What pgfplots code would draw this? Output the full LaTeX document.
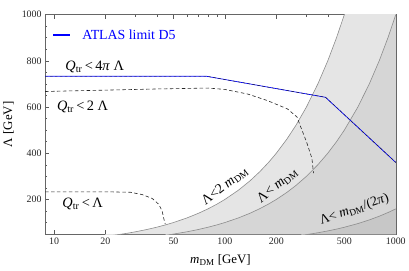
\documentclass[border=0pt]{standalone}
\usepackage{fontspec}
\setmainfont{Liberation Serif}
\usepackage{pgfplots}
\pgfplotsset{compat=1.18}
\begin{document}
\begin{tikzpicture}
\begin{axis}[
  scale only axis,
  width=354pt, height=221.6pt,
  xmode=log,
  xmin=8.87, xmax=1000,
  ymin=50, ymax=1000,
  xtick={10,20,50,100,200,500,1000},
  xticklabels={10,20,50,100,200,500,1000},
  minor xtick={30,40,60,70,80,90,300,400,600,700,800,900},
  ytick={200,400,600,800,1000},
  yticklabels={200,400,600,800,1000},
  minor ytick={100,150,250,300,350,450,500,550,650,700,750,850,900,950},
  tick align=inside,
  major tick length=4pt,
  minor tick length=2.2pt,
  tick style={black!65, line width=0.4pt},
  axis line style={black!60, line width=0.5pt},
  /pgf/number format/assume math mode=true,
  /pgf/number format/1000 sep={},
  tick label style={font=\fontsize{10}{10}\selectfont, text=black!85},
  xlabel={\textit{m}\textsubscript{DM} [GeV]},
  ylabel={Λ [GeV]},
  label style={font=\fontsize{13}{13}\selectfont},
  xlabel style={at={(axis description cs:0.5,-0.117)}, anchor=center},
  ylabel style={at={(axis description cs:-0.104,0.5)}, anchor=center},
  legend style={at={(axis description cs:0.012,0.905)}, anchor=west, draw=none, fill=none,
     font=\fontsize{14}{14}\selectfont, text=blue,
     /tikz/every odd column/.append style={column sep=9pt}},
  legend cell align=left,
  clip=true,
]
% shaded regions
\addplot[draw=none, fill=black!10, forget plot] coordinates {
 (20,40)(25,50)(27,54)(30,60)(35,70)(40,80)(45,90)(50,100)(60,120)(70,140)(80,160)(90,180)(100,200)(120,240)(140,280)(160,320)(180,360)(200,400)(230,460)(260,520)(300,600)(350,700)(400,800)(450,900)(500,1000)(600,1200)(1000,2000)
} \closedcycle;
\addplot[draw=none, fill=black!16, forget plot] coordinates {
 (45,45)(50,50)(60,60)(70,70)(80,80)(90,90)(100,100)(120,120)(140,140)(160,160)(180,180)(200,200)(230,230)(260,260)(300,300)(350,350)(400,400)(450,450)(500,500)(600,600)(700,700)(800,800)(900,900)(1000,1000)
} \closedcycle;
\addplot[draw=none, fill=black!22, forget plot] coordinates {
 (280,44.6)(300,47.7)(350,55.7)(400,63.7)(450,71.6)(500,79.6)(600,95.5)(700,111.4)(800,127.3)(900,143.2)(1000,159.2)
} \closedcycle;
% boundary curves
\addplot[black!45, line width=0.6pt, forget plot] coordinates {
 (20,40)(25,50)(27,54)(30,60)(35,70)(40,80)(45,90)(50,100)(60,120)(70,140)(80,160)(90,180)(100,200)(120,240)(140,280)(160,320)(180,360)(200,400)(230,460)(260,520)(300,600)(350,700)(400,800)(450,900)(500,1000)(600,1200)
};
\addplot[black!45, line width=0.6pt, forget plot] coordinates {
 (45,45)(50,50)(60,60)(70,70)(80,80)(90,90)(100,100)(120,120)(140,140)(160,160)(180,180)(200,200)(230,230)(260,260)(300,300)(350,350)(400,400)(450,450)(500,500)(600,600)(700,700)(800,800)(900,900)(1000,1000)
};
\addplot[black!45, line width=0.6pt, forget plot] coordinates {
 (280,44.6)(300,47.7)(350,55.7)(400,63.7)(450,71.6)(500,79.6)(600,95.5)(700,111.4)(800,127.3)(900,143.2)(1000,159.2)
};
% dashed contours
\addplot[black!85, line width=0.6pt, dash pattern=on 3.5pt off 2.5pt, forget plot] coordinates {
 (8.87,667)(10,668)(20,673)(40,678)(80,682)(100,676)(136,656)(177,628)(232,592)(264,557)(280,507)(300,450)(323,378)(330,314)
};
\addplot[black!85, line width=0.6pt, dash pattern=on 3.5pt off 2.5pt, forget plot] coordinates {
 (8.87,233)(10,233)(20,233)(28,231)(32.8,221)(37.6,204)(41,179)(42.9,150)(44.2,108)(44.8,93)
};
% ATLAS limit
\addlegendimage{draw=blue, line width=2pt, solid}
\addlegendentry{ATLAS limit D5}
\addplot[blue, line width=0.7pt, forget plot] coordinates {
 (8.87,733)(10,733)(78,733)(388,642)(1000,360)
};
\addplot[black!85, line width=0.45pt, dash pattern=on 2.5pt off 2.5pt, forget plot] coordinates {
 (8.87,733)(10,733)(78,733)(388,642)(1000,360)
};
% text labels
\node[font=\fontsize{14.5}{14.5}\selectfont, anchor=center] at (axis cs:17.3,772) {\textit{Q}\textsubscript{tr}\,<\,4\textit{π} Λ};
\node[font=\fontsize{14.5}{14.5}\selectfont, anchor=center] at (axis cs:14.7,600) {\textit{Q}\textsubscript{tr}\,<\,2 Λ};
\node[font=\fontsize{14.5}{14.5}\selectfont, anchor=center] at (axis cs:14.7,181) {\textit{Q}\textsubscript{tr}\,<\,Λ};
\node[font=\fontsize{14}{14}\selectfont, rotate=38, anchor=center] at (axis cs:100,257) {Λ<2 \textit{m}\textsubscript{DM}};
\node[font=\fontsize{14}{14}\selectfont, rotate=39, anchor=center] at (axis cs:203,260) {Λ< \textit{m}\textsubscript{DM}};
\node[font=\fontsize{13.5}{13.5}\selectfont, rotate=19, anchor=center] at (axis cs:572,156) {Λ< \textit{m}\textsubscript{DM}/(2\textit{π})};
\end{axis}
\path (current axis.south west) ++(-45pt,-36.7pt) coordinate (bl);
\path (current axis.north east) ++(10pt,14.7pt) coordinate (tr);
\path[use as bounding box] (bl) rectangle (tr);
\end{tikzpicture}
\end{document}
